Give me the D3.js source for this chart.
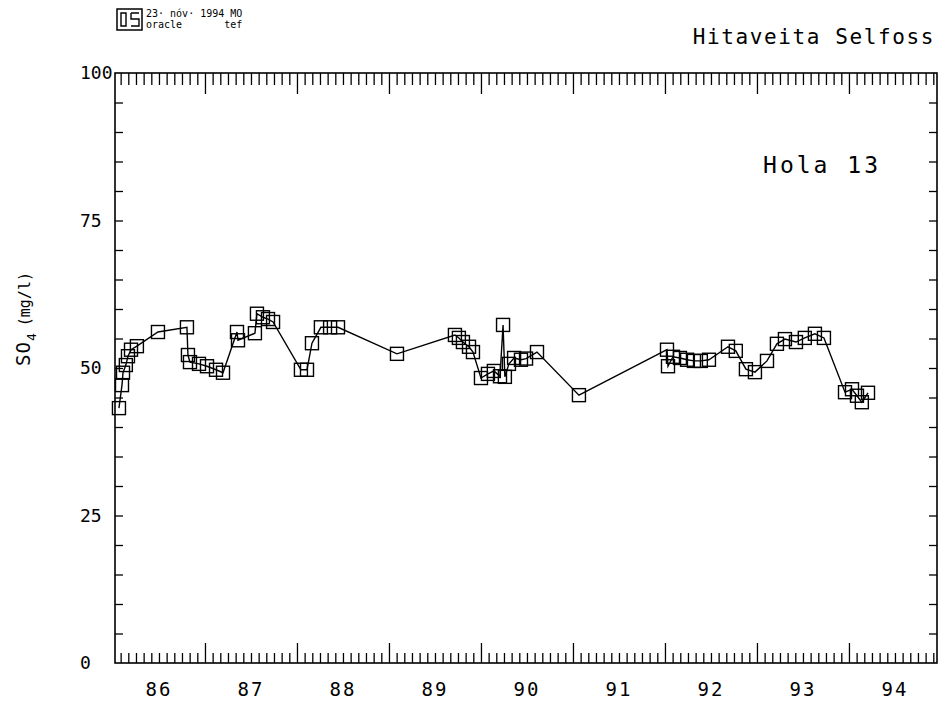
<!DOCTYPE html>
<html><head><meta charset="utf-8">
<script src="https://cdn.jsdelivr.net/npm/d3@7"></script>
<style>
body{margin:0;background:#fff}
svg{display:block}
text{font-family:"DejaVu Sans Mono",monospace;fill:#000}
</style>
</head><body>
<svg id="c" width="943" height="710"></svg>
<script>
// ---- data ----
const years = [1986.065,1986.098,1986.109,1986.14,1986.163,1986.196,1986.26,1986.489,1986.804,1986.815,
  1986.837,1986.935,1987.022,1987.12,1987.196,1987.348,1987.359,1987.543,1987.565,1987.63,
  1987.685,1987.74,1988.043,1988.109,1988.163,1988.26,1988.36,1988.446,1989.087,1989.717,
  1989.76,1989.804,1989.87,1989.913,1990.0,1990.076,1990.14,1990.207,1990.24,1990.26,
  1990.304,1990.36,1990.435,1990.49,1990.609,1991.065,1992.022,1992.033,1992.087,1992.163,
  1992.24,1992.315,1992.39,1992.478,1992.685,1992.77,1992.88,1992.978,1993.109,1993.217,
  1993.304,1993.424,1993.52,1993.63,1993.728,1993.957,1994.033,1994.087,1994.14,1994.207];
const so4 = [43.2,47.1,49.2,50.5,52.0,53.1,53.7,56.1,56.9,52.2,
  51.0,50.7,50.3,49.7,49.2,56.1,54.7,55.9,59.2,58.6,
  58.3,57.8,49.7,49.7,54.2,56.9,56.9,56.9,52.4,55.6,
  55.1,54.4,53.6,52.7,48.3,49.0,49.5,48.6,57.3,48.5,
  50.7,51.7,51.4,51.6,52.7,45.4,53.1,50.3,51.9,51.7,
  51.4,51.2,51.2,51.4,53.6,52.9,49.8,49.3,51.2,54.1,
  54.9,54.4,55.1,55.8,55.1,45.9,46.4,45.3,44.2,45.8];
const yearLabels = ["86","87","88","89","90","91","92","93","94"];
const yTickValues = [0,25,50,75,100];
const titleText = "Hitaveita Selfoss";
const wellText = "Hola 13";

// ---- layout ----
const L=115, R=937, T=73, B=663;
const svg = d3.select("#c");
const x = d3.scaleLinear().domain([1986.022,1994.957]).range([L,R]);
const y = d3.scaleLinear().domain([0,100]).range([B,T]);

// month ticks
const monthTicks = d3.range(1986*12+1, 1995*12).map(m=>m/12).filter(v=>v>x.domain()[0] && v<x.domain()[1]);
const minorX = monthTicks.filter(v=>Math.abs(v-Math.round(v))>1e-6);
const majorX = d3.range(1987,1995);

function drawX(gen, ty, minorLen, majorLen){
  svg.append("g").attr("transform",`translate(0,${ty})`)
    .call(gen(x).tickValues(minorX).tickSize(minorLen).tickFormat(""))
    .call(g=>g.select(".domain").remove());
  svg.append("g").attr("transform",`translate(0,${ty})`)
    .call(gen(x).tickValues(majorX).tickSize(majorLen).tickFormat(""))
    .call(g=>g.select(".domain").remove());
}
drawX(d3.axisBottom, B, -10, -20);
drawX(d3.axisTop, T, -12, -21);

const yMinor = d3.range(5,100,5);
svg.append("g").attr("transform",`translate(${L},0)`)
  .call(d3.axisLeft(y).tickValues(yMinor).tickSize(-8).tickFormat(""))
  .call(g=>g.select(".domain").remove());
svg.append("g").attr("transform",`translate(${R},0)`)
  .call(d3.axisRight(y).tickValues(yMinor).tickSize(-8).tickFormat(""))
  .call(g=>g.select(".domain").remove());

svg.selectAll("g.tick line").attr("stroke","#000").attr("stroke-width",1.3);

// frame
svg.append("rect").attr("x",L).attr("y",T).attr("width",R-L).attr("height",B-T)
  .attr("fill","none").attr("stroke","#000").attr("stroke-width",1.6);

// labels
svg.selectAll("text.xl").data(yearLabels).join("text").attr("class","xl")
  .attr("x",(d,i)=>x(1986.5+i)).attr("y",696).attr("text-anchor","middle")
  .attr("font-size",19).attr("letter-spacing",2).text(d=>d);
svg.selectAll("text.yl").data(yTickValues).join("text").attr("class","yl")
  .attr("x",80).attr("y",d=>y(d)+6).attr("text-anchor","start")
  .attr("font-size",18).text(d=>d);

// title & well name
svg.append("text").attr("x",935).attr("y",44).attr("text-anchor","end")
  .attr("font-size",21).attr("letter-spacing",1.6).text(titleText);
svg.append("text").attr("x",881).attr("y",173).attr("text-anchor","end")
  .attr("font-size",23).attr("letter-spacing",3).text(wellText);

// y axis title
const yt = svg.append("text").attr("transform","translate(30,319) rotate(-90)").attr("text-anchor","middle");
yt.append("tspan").attr("font-size",19).attr("letter-spacing",1).text("SO");
yt.append("tspan").attr("font-size",13).attr("dy",6).text("4");
yt.append("tspan").attr("font-size",15).attr("dy",-6).attr("dx",7).text("(mg/l)");

// header stamp
const hg = svg.append("g");
hg.append("rect").attr("x",117).attr("y",9).attr("width",25).attr("height",21).attr("fill","none").attr("stroke","#000").attr("stroke-width",1.5);
hg.append("path").attr("d","M121,13 h5 v13 h-5 z M131,13 h8 M131,13 v6 h8 v7 h-8").attr("fill","none").attr("stroke","#000").attr("stroke-width",1.4);
hg.append("text").attr("x",146).attr("y",17).attr("font-size",10).text("23· nóv· 1994 MO");
hg.append("text").attr("x",146).attr("y",28).attr("font-size",10).attr("xml:space","preserve").text("oracle       tef");

// data line + squares
const pts = years.map((t,i)=>[t,so4[i]]);
svg.append("path").datum(pts)
  .attr("d",d3.line().x(d=>x(d[0])).y(d=>y(d[1])))
  .attr("fill","none").attr("stroke","#000").attr("stroke-width",1.4);
const S=13;
svg.selectAll("rect.pt").data(pts).join("rect").attr("class","pt")
  .attr("x",d=>x(d[0])-S/2).attr("y",d=>y(d[1])-S/2).attr("width",S).attr("height",S)
  .attr("fill","none").attr("stroke","#000").attr("stroke-width",1.4);
</script>
</body></html>
